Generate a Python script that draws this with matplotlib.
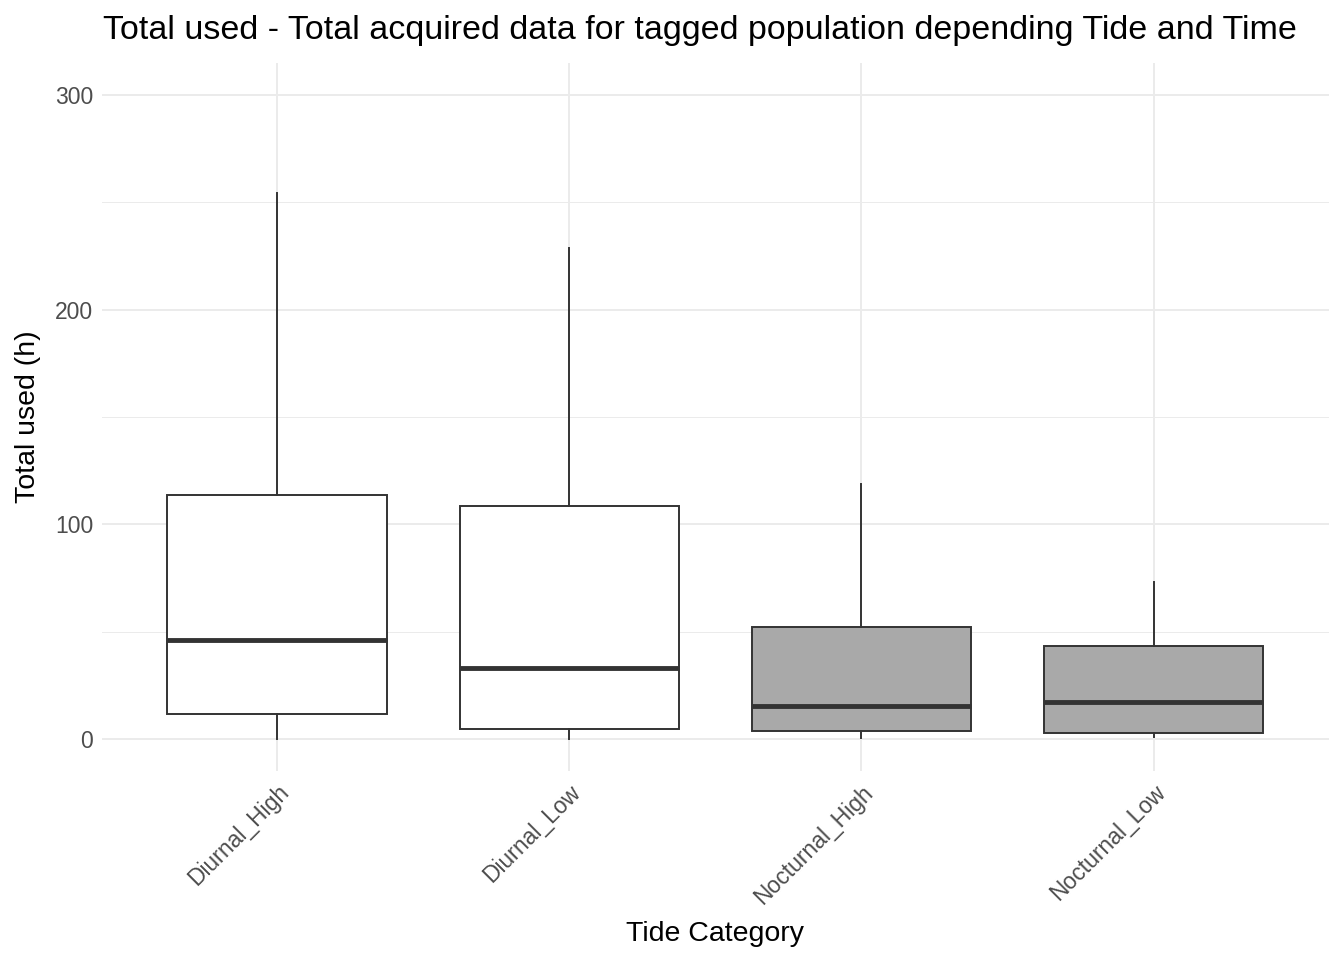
import matplotlib
matplotlib.use("Agg")
import matplotlib.pyplot as plt
from matplotlib.ticker import MultipleLocator

plt.rcParams['font.family'] = ['Liberation Sans', 'DejaVu Sans']

categories = ["Diurnal_High", "Diurnal_Low", "Nocturnal_High", "Nocturnal_Low"]
whislo = [0.0, 0.0, 0.5, 0.9]
q1 = [11.6, 4.7, 3.7, 2.8]
med = [46.0, 33.0, 15.4, 17.2]
q3 = [113.7, 108.6, 52.2, 43.4]
whishi = [254.5, 229.0, 118.9, 73.2]
fills = ["#FFFFFF", "#FFFFFF", "#A9A9A9", "#A9A9A9"]

fig = plt.figure(figsize=(13.44, 9.6), dpi=100)
ax = fig.add_axes([101.6/1344, 1 - 771/960, (1329-101.6)/1344, (771-63)/960])

stats = []
for i, c in enumerate(categories):
    stats.append(dict(label=c, whislo=whislo[i], q1=q1[i], med=med[i], q3=q3[i], whishi=whishi[i], fliers=[]))

pos = list(range(1, len(categories) + 1))
bp = ax.bxp(stats, positions=pos, widths=0.75, patch_artist=True, showcaps=False, showfliers=False,
            boxprops=dict(edgecolor="#333333", linewidth=1.4),
            whiskerprops=dict(color="#333333", linewidth=1.4),
            medianprops=dict(color="#333333", linewidth=3.5, solid_capstyle='butt'),
            zorder=3)
for patch, f in zip(bp['boxes'], fills):
    patch.set_facecolor(f)

ax.set_xlim(0.4, 4.6)
ax.set_ylim(-15, 315)
ax.yaxis.set_major_locator(MultipleLocator(100))
ax.yaxis.set_minor_locator(MultipleLocator(50))
ax.grid(True, which='major', color="#EBEBEB", linewidth=1.4, zorder=0)
ax.grid(True, which='minor', axis='y', color="#EBEBEB", linewidth=0.7, zorder=0)
ax.set_axisbelow(True)
for s in ax.spines.values():
    s.set_visible(False)
ax.tick_params(axis='both', which='both', length=0, colors="#4D4D4D", labelsize=16.5)
ax.set_xticks(pos)
ax.set_xticklabels(categories, rotation=45, ha='right', va='top', rotation_mode='anchor')
ax.tick_params(axis='x', pad=7)
ax.tick_params(axis='y', pad=6)

ax.set_xlabel("Tide Category", fontsize=20.5, labelpad=9, color="black")
ax.set_ylabel("Total used (h)", fontsize=20.5, labelpad=10, color="black")
fig.text(103/1344, 1 - 31/960, "Total used - Total acquired data for tagged population depending Tide and Time",
         fontsize=24.5, ha='left', va='center', color="black")

fig.savefig("out.png", dpi=100, facecolor="white")
